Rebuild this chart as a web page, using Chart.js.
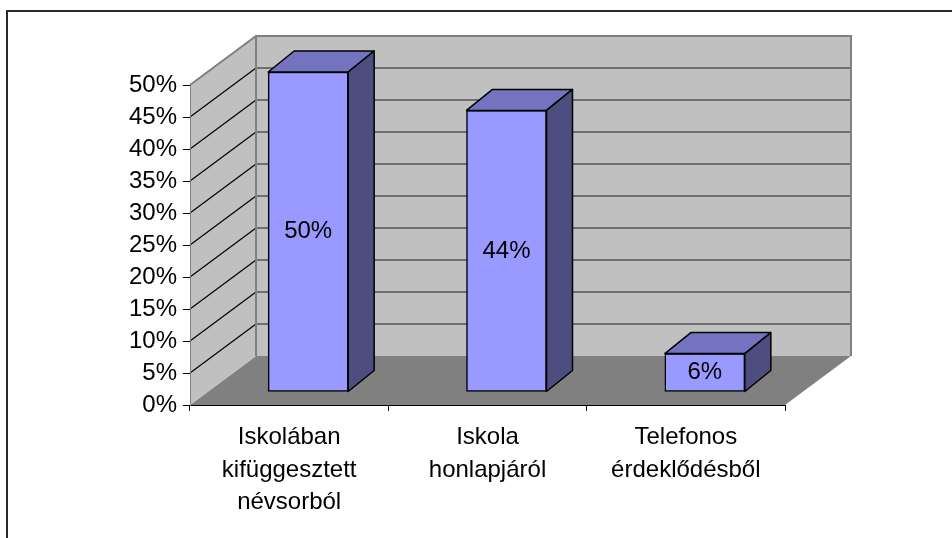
<!DOCTYPE html>
<html>
<head>
<meta charset="utf-8">
<script src="https://cdn.jsdelivr.net/npm/chart.js@4.4.1/dist/chart.umd.min.js"></script>
<style>
  html, body { margin: 0; padding: 0; background: #fff; }
  canvas { display: block; }
</style>
</head>
<body>
<canvas id="chart" width="952" height="538"></canvas>
<script>
// Data
const categories = [
  ['Iskolában', 'kifüggesztett', 'névsorból'],
  ['Iskola', 'honlapjáról'],
  ['Telefonos', 'érdeklődésből']
];
const values = [50, 44, 6];
const valueLabels = ['50%', '44%', '6%'];
const yMax = 50;
const yStep = 5;

const FONT = '"Liberation Sans", Arial, sans-serif';

// 3D look: wall depth, bar offset from the front plane, bar depth
const wall = { dx: 66, dy: -49 };
const barShift = { dx: 19, dy: -13 };
const barDepth = { dx: 26, dy: -21 };

function poly(ctx, pts) {
  ctx.beginPath();
  ctx.moveTo(pts[0][0], pts[0][1]);
  for (let i = 1; i < pts.length; i++) ctx.lineTo(pts[i][0], pts[i][1]);
  ctx.closePath();
}

const box3d = {
  id: 'box3d',
  beforeDraw(chart) {
    const { ctx, chartArea: a, scales: { y } } = chart;
    ctx.save();
    ctx.fillStyle = '#fff';
    ctx.fillRect(0, 0, chart.width, chart.height);

    // outer frame (only top/left visible)
    ctx.fillStyle = '#2a2a2a';
    ctx.fillRect(6, 10, 2, chart.height);
    ctx.fillRect(6, 10, chart.width, 2);

    // floor
    ctx.fillStyle = '#808080';
    poly(ctx, [[a.left, a.bottom], [a.right, a.bottom],
      [a.right + wall.dx, a.bottom + wall.dy], [a.left + wall.dx, a.bottom + wall.dy]]);
    ctx.fill();

    // back wall + side wall
    ctx.fillStyle = '#c0c0c0';
    ctx.fillRect(a.left + wall.dx, a.top + wall.dy, a.right - a.left, a.bottom - a.top);
    poly(ctx, [[a.left, a.bottom], [a.left + wall.dx, a.bottom + wall.dy],
      [a.left + wall.dx, a.top + wall.dy], [a.left, a.top]]);
    ctx.fill();

    // gridlines
    y.ticks.forEach(t => {
      if (t.value <= 0 || t.value >= yMax) return;
      const yy = Math.round(y.getPixelForValue(t.value));
      ctx.strokeStyle = '#555';
      ctx.lineWidth = 1.5;
      ctx.beginPath();
      ctx.moveTo(a.left + wall.dx, yy + wall.dy);
      ctx.lineTo(a.right + wall.dx, yy + wall.dy);
      ctx.stroke();
      ctx.strokeStyle = '#000';
      ctx.lineWidth = 1.2;
      ctx.beginPath();
      ctx.moveTo(a.left, yy);
      ctx.lineTo(a.left + wall.dx, yy + wall.dy);
      ctx.stroke();
    });

    // wall edges
    ctx.strokeStyle = '#808080';
    ctx.lineWidth = 2;
    ctx.beginPath();
    ctx.moveTo(a.left, a.top);
    ctx.lineTo(a.left + wall.dx, a.top + wall.dy);
    ctx.lineTo(a.right + wall.dx, a.top + wall.dy);
    ctx.lineTo(a.right + wall.dx, a.bottom + wall.dy);
    ctx.moveTo(a.left + wall.dx, a.top + wall.dy);
    ctx.lineTo(a.left + wall.dx, a.bottom + wall.dy);
    ctx.stroke();
    ctx.restore();
  },
  beforeDatasetsDraw(chart) {
    chart.ctx.save();
    chart.ctx.translate(barShift.dx, barShift.dy);
  },
  afterDatasetsDraw(chart) {
    const ctx = chart.ctx;
    const meta = chart.getDatasetMeta(0);
    meta.data.forEach((bar, i) => {
      const { x, y, base, width } = bar;
      const l = x - width / 2, r = x + width / 2;
      ctx.lineWidth = 1.5;
      ctx.strokeStyle = '#000';
      ctx.lineJoin = 'round';
      // top face
      ctx.fillStyle = '#7373bf';
      poly(ctx, [[l, y], [r, y], [r + barDepth.dx, y + barDepth.dy], [l + barDepth.dx, y + barDepth.dy]]);
      ctx.fill();
      ctx.stroke();
      // side face
      ctx.fillStyle = '#4d4d80';
      poly(ctx, [[r, y], [r + barDepth.dx, y + barDepth.dy], [r + barDepth.dx, base + barDepth.dy], [r, base]]);
      ctx.fill();
      ctx.stroke();
      // value label
      ctx.fillStyle = '#000';
      ctx.font = '24px ' + FONT;
      ctx.textAlign = 'center';
      ctx.textBaseline = 'middle';
      ctx.fillText(valueLabels[i], x, (y + base) / 2);
    });
    ctx.restore();
  }
};

new Chart(document.getElementById('chart'), {
  type: 'bar',
  data: {
    labels: categories,
    datasets: [{
      data: values,
      backgroundColor: '#9999ff',
      borderColor: '#000',
      borderWidth: 1.5,
      borderSkipped: false,
      barThickness: 80,
      clip: false
    }]
  },
  options: {
    responsive: false,
    animation: false,
    devicePixelRatio: 1,
    layout: { padding: { left: 0, top: 85, right: 167, bottom: 0 } },
    plugins: { legend: { display: false }, tooltip: { enabled: false } },
    scales: {
      x: {
        afterFit: (s) => { s.height = 133; },
        grid: { drawOnChartArea: false, tickLength: 6, color: '#000', offset: true },
        border: { color: '#000', width: 1 },
        ticks: {
          color: '#000', padding: 10, maxRotation: 0, autoSkip: false,
          font: { family: FONT, size: 24, lineHeight: 1.36 }
        }
      },
      y: {
        min: 0,
        max: yMax,
        afterFit: (s) => { s.width = 190; },
        grid: { drawOnChartArea: false, tickLength: 7, color: '#000' },
        border: { color: '#808080', width: 1 },
        ticks: {
          stepSize: yStep, color: '#000', padding: 6,
          callback: (v) => v + '%',
          font: { family: FONT, size: 24 }
        }
      }
    }
  },
  plugins: [box3d]
});
</script>
</body>
</html>
